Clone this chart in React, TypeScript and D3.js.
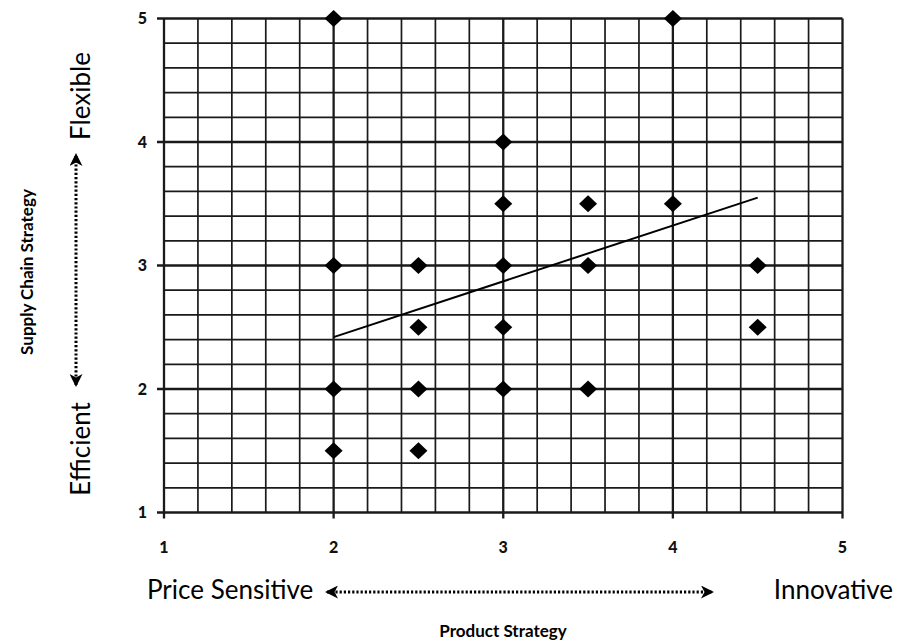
import React, { useEffect } from "react";
import * as d3 from "d3";

const xTicks = [1, 2, 3, 4, 5];
const yTicks = [1, 2, 3, 4, 5];
const pointsX = [2, 4, 3, 3, 3.5, 4, 2, 2.5, 3, 3.5, 4.5, 2.5, 3, 4.5, 2, 2.5, 3, 3.5, 2, 2.5];
const pointsY = [5, 5, 4, 3.5, 3.5, 3.5, 3, 3, 3, 3, 3, 2.5, 2.5, 2.5, 2, 2, 2, 2, 1.5, 1.5];
const trendX = [2, 4.5];
const trendY = [2.42, 3.55];
const xTitle = "Product Strategy";
const yTitle = "Supply Chain Strategy";
const xLow = "Price Sensitive";
const xHigh = "Innovative";
const yLow = "Efficient";
const yHigh = "Flexible";

const W = 897;
const H = 643;
const FONT = "Lato, 'Open Sans', sans-serif";

export default function App() {
  useEffect(() => {
    document.body.style.margin = "0";
  }, []);

  const x = d3.scaleLinear().domain([1, 5]).range([164, 842.5]);
  const y = d3.scaleLinear().domain([1, 5]).range([512.5, 18.5]);
  const grid = d3.range(0, 21).map((i) => 1 + i * 0.2);
  const isMajor = (v: number) => Math.abs(v - Math.round(v)) < 1e-6;
  const line = d3.line<[number, number]>().x((d) => x(d[0])).y((d) => y(d[1]));
  const trend: [number, number][] = trendX.map((v, i) => [v, trendY[i]]);
  const diamond = (cx: number, cy: number) => {
    const hw = 9, hh = 8.5;
    return `M${cx},${cy - hh}L${cx + hw},${cy}L${cx},${cy + hh}L${cx - hw},${cy}Z`;
  };

  const gridColor = "#1a1a1a";

  return (
    <svg width={W} height={H} style={{ display: "block", background: "#fff" }}>
      <defs>
        <marker id="ah" viewBox="0 0 13 13" refX="11" refY="6.5" markerWidth="13" markerHeight="13" markerUnits="userSpaceOnUse" orient="auto-start-reverse">
          <path d="M0,0 L13,6.5 L0,13 L3.5,6.5 Z" fill="#000" />
        </marker>
      </defs>
      {/* grid */}
      <g>
        {grid.map((v, i) => (
          <line
            key={"v" + i}
            x1={x(v)}
            x2={x(v)}
            y1={y(5)}
            y2={isMajor(v) ? y(1) + 6 : y(1)}
            stroke={gridColor}
            strokeWidth={isMajor(v) ? 2.3 : 1.7}
          />
        ))}
        {grid.map((v, i) => (
          <line
            key={"h" + i}
            y1={y(v)}
            y2={y(v)}
            x1={isMajor(v) ? x(1) - 7 : x(1)}
            x2={x(5)}
            stroke={gridColor}
            strokeWidth={isMajor(v) ? 2.3 : 1.7}
          />
        ))}
      </g>
      {/* tick labels */}
      <g fontFamily={FONT} fontWeight="900" fontSize={16} fill="#111">
        {xTicks.map((t) => (
          <text key={"xt" + t} x={x(t)} y={553} textAnchor="middle">
            {t}
          </text>
        ))}
        {yTicks.map((t) => (
          <text key={"yt" + t} x={147} y={y(t)} dy="0.36em" textAnchor="end">
            {t}
          </text>
        ))}
      </g>
      {/* trend line */}
      <path d={line(trend) || ""} fill="none" stroke="#000" strokeWidth={2} />
      {/* points */}
      <g fill="#000">
        {pointsX.map((px, i) => (
          <path key={"p" + i} d={diamond(x(px), y(pointsY[i]))} />
        ))}
      </g>
      {/* axis end labels */}
      <g fontFamily={FONT} fontSize={26} fill="#000">
        <text x={147} y={599}>{xLow}</text>
        <text x={893} y={599} textAnchor="end">{xHigh}</text>
        <text transform={`translate(90,96) rotate(-90)`} textAnchor="middle">{yHigh}</text>
        <text transform={`translate(90,449) rotate(-90)`} textAnchor="middle">{yLow}</text>
      </g>
      {/* arrows */}
      <line x1={327} x2={712} y1={592} y2={592} stroke="#000" strokeWidth={3} strokeDasharray="2.2 2" markerStart="url(#ah)" markerEnd="url(#ah)" />
      <line x1={76} x2={76} y1={385} y2={155} stroke="#000" strokeWidth={3} strokeDasharray="2.2 2" markerStart="url(#ah)" markerEnd="url(#ah)" />
      {/* titles */}
      <g fontFamily={FONT} fontWeight="bold" fontSize={17} fill="#000">
        <text x={503} y={637} textAnchor="middle">{xTitle}</text>
        <text transform={`translate(33,272) rotate(-90)`} textAnchor="middle">{yTitle}</text>
      </g>
    </svg>
  );
}
